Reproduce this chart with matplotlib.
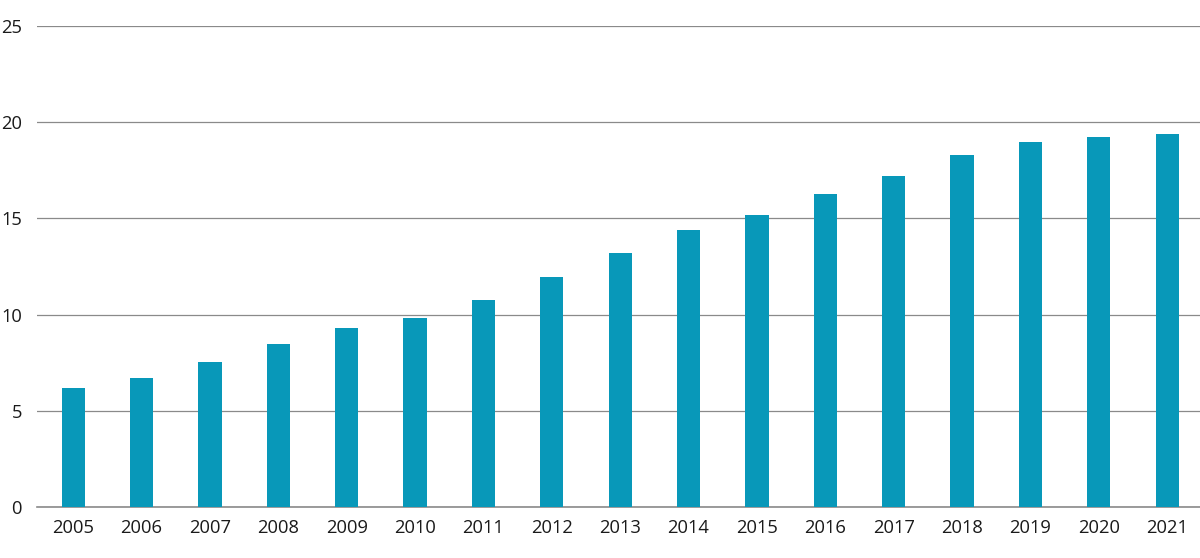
import matplotlib
matplotlib.use("Agg")
import matplotlib.pyplot as plt

years = ["2005", "2006", "2007", "2008", "2009", "2010", "2011", "2012", "2013",
         "2014", "2015", "2016", "2017", "2018", "2019", "2020", "2021"]
values = [6.2, 6.7, 7.55, 8.47, 9.3, 9.82, 10.77, 11.97, 13.2,
          14.4, 15.2, 16.28, 17.22, 18.3, 18.98, 19.24, 19.38]
yticks = [0, 5, 10, 15, 20, 25]

plt.rcParams['font.family'] = ['Open Sans', 'DejaVu Sans']

fig = plt.figure(figsize=(12, 5.58), dpi=100)
ax = fig.add_axes([0.031, 0.0914, 0.969, 0.862])

x = list(range(len(years)))
ax.bar(x, values, width=0.34, color="#0898b9", zorder=3)

ax.set_ylim(0, 25)
ax.set_xlim(-0.526, 16.48)
ax.set_yticks(yticks)
ax.set_xticks(x)
ax.set_xticklabels(years)
ax.yaxis.grid(True, color="#8a8a8a", linewidth=0.9, zorder=0)
ax.axhline(0, color="#8a8a8a", linewidth=1.2, zorder=2, clip_on=False)
ax.set_axisbelow(True)

for s in ax.spines.values():
    s.set_visible(False)
ax.tick_params(axis="both", length=0, labelsize=13.2, colors="#1a1a1a")
ax.tick_params(axis="x", pad=9)
ax.tick_params(axis="y", pad=11)

fig.savefig("out.png", dpi=100)
